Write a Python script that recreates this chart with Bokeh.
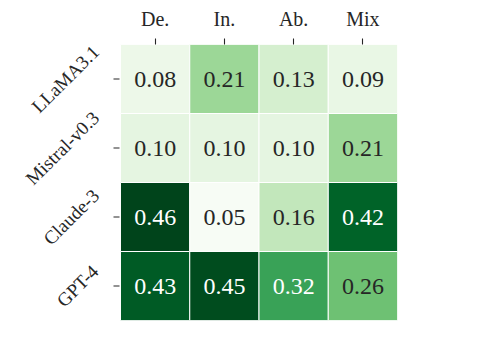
from math import pi, cos
from bokeh.plotting import figure
from bokeh.models import ColumnDataSource, LinearColorMapper, Range1d, Label, FixedTicker
from bokeh.palettes import Greens256
from bokeh.embed import file_html
from bokeh.resources import INLINE
from bokeh.core.properties import value

columns = ["De.", "In.", "Ab.", "Mix"]
models = ["LLaMA3.1", "Mistral-v0.3", "Claude-3", "GPT-4"]
llama = [0.08, 0.21, 0.13, 0.09]
mistral = [0.10, 0.10, 0.10, 0.21]
claude = [0.46, 0.05, 0.16, 0.42]
gpt4 = [0.43, 0.45, 0.32, 0.26]

rows = [llama, mistral, claude, gpt4]
palette = list(reversed(Greens256))
vmin = min(min(r) for r in rows)
vmax = max(max(r) for r in rows)

FONT = "Liberation Serif"
INK = "#262626"
GRID_W, GRID_H = 277, 276      # heatmap size in px
LEFT_PAD = 110                 # px of frame left of heatmap (room for labels)
LABEL_PX = 20
YLABEL_PX = 19
ppu = GRID_W / len(columns)    # px per data unit (x)

def color_of(v):
    i = int(round((v - vmin) / (vmax - vmin) * (len(palette) - 1)))
    return palette[i]

def lum(hexc):
    h = hexc.lstrip("#")
    vals = []
    for k in (0, 2, 4):
        c = int(h[k:k + 2], 16) / 255
        c = c / 12.92 if c <= 0.03928 else ((c + 0.055) / 1.055) ** 2.4
        vals.append(c)
    return 0.2126 * vals[0] + 0.7152 * vals[1] + 0.0722 * vals[2]

# Times / Liberation Serif advance widths (per 1000 em), for label layout
TW = {"L": 611, "a": 444, "M": 889, "A": 722, "3": 500, ".": 250, "1": 500,
      "i": 278, "s": 389, "t": 278, "r": 333, "l": 278, "-": 333, "v": 500,
      "0": 500, "C": 667, "u": 500, "d": 500, "e": 444, "G": 722, "P": 556,
      "T": 611, "4": 500}

def text_w(s, px):
    return sum(TW.get(ch, 500) for ch in s) / 1000 * px

xs, ys, vs, labels, tcolors = [], [], [], [], []
for ri, r in enumerate(rows):
    for ci, v in enumerate(r):
        xs.append(ci + 0.5)
        ys.append(ri + 0.5)
        vs.append(v)
        labels.append(f"{v:.2f}")
        tcolors.append(INK if lum(color_of(v)) > 0.408 else "#ffffff")

src = ColumnDataSource(dict(x=xs, y=ys, v=vs, label=labels, tc=tcolors))
mapper = LinearColorMapper(palette=palette, low=vmin, high=vmax)

p = figure(
    x_range=Range1d(-LEFT_PAD / ppu, len(columns)),
    y_range=Range1d(len(models), 0),
    x_axis_location="above", y_axis_location=None,
    frame_width=GRID_W + LEFT_PAD, frame_height=GRID_H,
    min_border_left=120 - LEFT_PAD, min_border_top=44, min_border_right=80,
    min_border_bottom=24,
    output_backend="svg", toolbar_location=None,
)
p.outline_line_color = None
p.grid.grid_line_color = None

# left ticks
tick_y = [i + 0.5 for i in range(len(models))]
p.segment(x0=[-7 / ppu] * len(models), x1=[-1 / ppu] * len(models),
          y0=tick_y, y1=tick_y, line_color=INK, line_width=1.1)

p.rect(x="x", y="y", width=1, height=1, source=src,
       fill_color={"field": "v", "transform": mapper},
       line_color="white", line_width=1)
p.text(x="x", y="y", text="label", source=src, text_color="tc",
       text_align="center", text_baseline="middle",
       text_font=value(FONT), text_font_size="24px")

ax = p.xaxis[0]
ax.ticker = FixedTicker(ticks=[i + 0.5 for i in range(len(columns))])
ax.major_label_overrides = {i + 0.5: c for i, c in enumerate(columns)}
ax.minor_tick_line_color = None
ax.axis_line_color = None
ax.major_tick_line_color = INK
ax.major_tick_line_width = 1.1
ax.major_tick_out = 6
ax.major_tick_in = 0
ax.major_label_text_font = FONT
ax.major_label_text_font_size = f"{LABEL_PX}px"
ax.major_label_text_color = INK
ax.major_label_standoff = 9

# rotated y labels, matplotlib style: bbox right edge fixed, centred on tick
c45 = cos(pi / 4)
for i, m in enumerate(models):
    half = (text_w(m, YLABEL_PX) + 0.7 * YLABEL_PX) * c45 / 2
    cx = -(20 + half) / ppu
    p.add_layout(Label(x=cx, y=i + 0.5, text=m, angle=pi / 4,
                       text_align="center", text_baseline="middle",
                       text_font=FONT, text_font_size=f"{YLABEL_PX}px",
                       text_color=INK))

open("out.html", "w").write(file_html(p, INLINE))
